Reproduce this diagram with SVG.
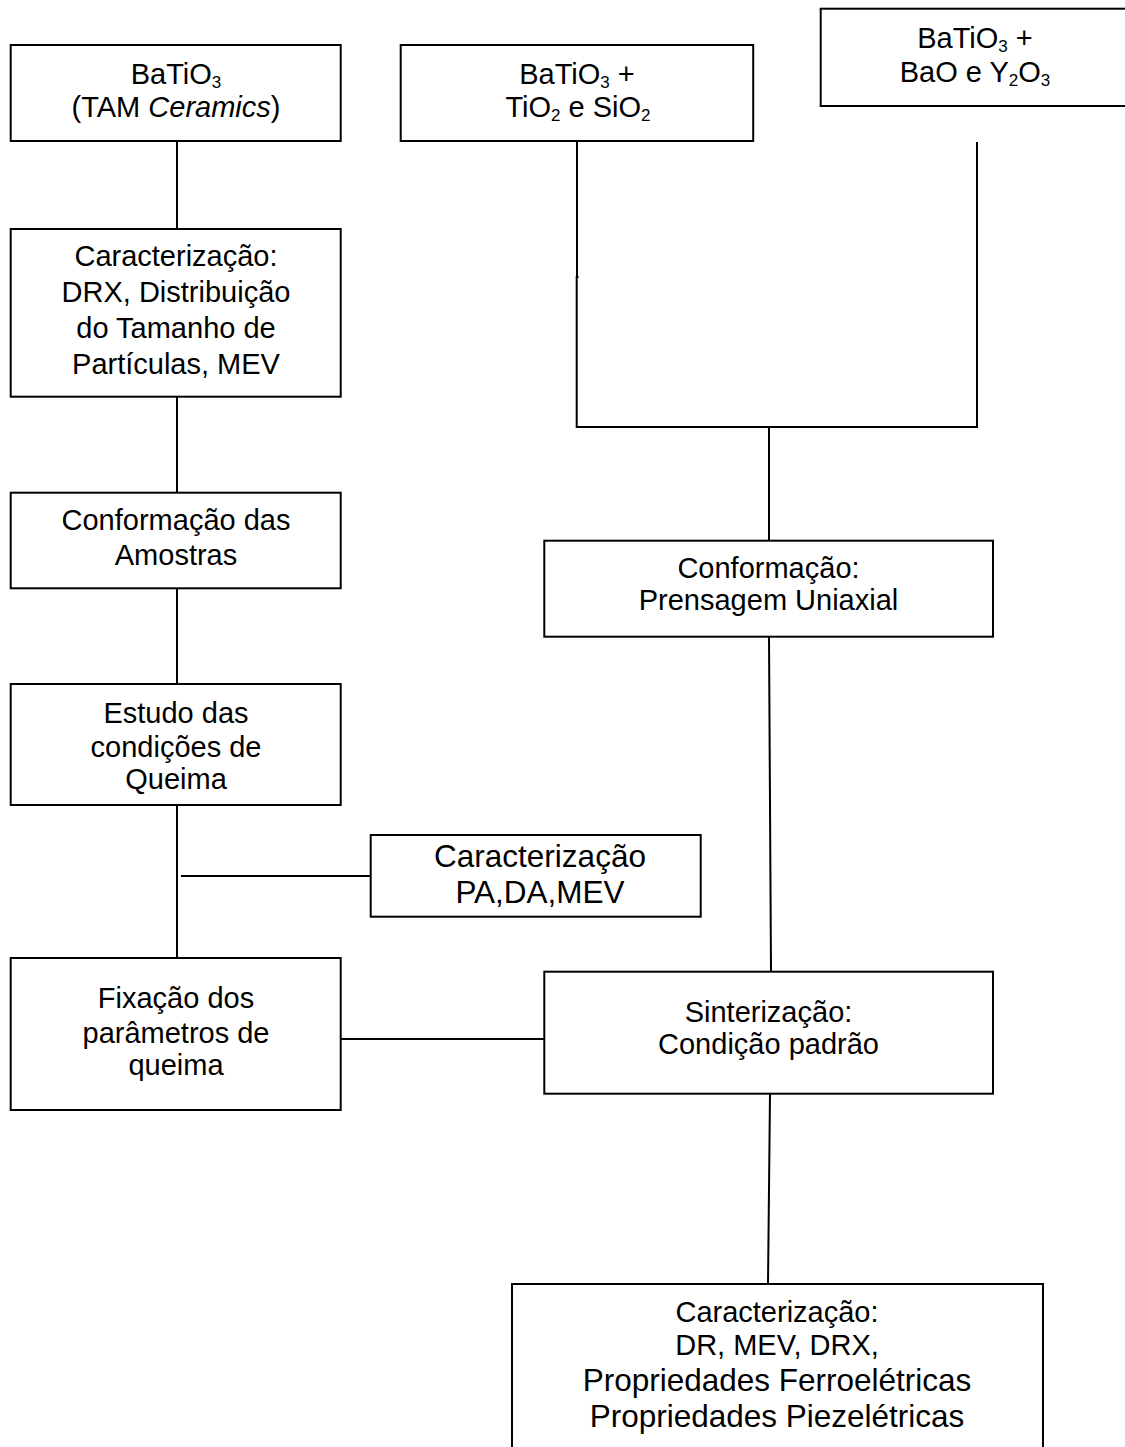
<svg xmlns="http://www.w3.org/2000/svg" width="1125" height="1447" viewBox="0 0 1125 1447">
<style>
.box{fill:#fff;stroke:#000;stroke-width:2}
.ln{fill:none;stroke:#000;stroke-width:2}
text{font-family:"Liberation Sans",Arial,sans-serif;font-size:29px;fill:#000;text-anchor:middle}
.sub{font-size:17px}
.big{font-size:31.5px}
</style>
<rect width="1125" height="1447" fill="#fff"/>
<g id="connectors">
<line class="ln" x1="177" y1="141" x2="177" y2="229"/>
<line class="ln" x1="177" y1="397" x2="177" y2="493"/>
<line class="ln" x1="177" y1="588" x2="177" y2="684"/>
<line class="ln" x1="177" y1="805" x2="177" y2="958"/>
<line class="ln" x1="181" y1="876" x2="371" y2="876"/>
<line class="ln" x1="341" y1="1039" x2="544" y2="1039"/>
<line class="ln" x1="577" y1="141" x2="577" y2="277"/>
<polyline class="ln" points="578.5,277 576.7,277 576.7,427 977,427 977,142"/>
<line class="ln" x1="769" y1="427" x2="769" y2="541"/>
<line class="ln" x1="769" y1="637" x2="771" y2="971"/>
<line class="ln" x1="770" y1="1094" x2="768" y2="1284"/>
</g>
<g id="n1">
<rect class="box" x="10.7" y="45" width="330" height="96"/>
<text x="176" y="84">BaTiO<tspan class="sub" dy="4">3</tspan></text>
<text x="176" y="117">(TAM <tspan font-style="italic">Ceramics</tspan>)</text>
</g>
<g id="n2">
<rect class="box" x="400.7" y="45" width="352.5" height="96"/>
<text x="577" y="83.5">BaTiO<tspan class="sub" dy="4">3</tspan><tspan dy="-4"> +</tspan></text>
<text x="578" y="116.5">TiO<tspan class="sub" dy="4">2</tspan><tspan dy="-4"> e SiO</tspan><tspan class="sub" dy="4">2</tspan></text>
</g>
<g id="n3">
<rect class="box" x="820.7" y="8.7" width="310" height="97.3"/>
<text x="975" y="47.5">BaTiO<tspan class="sub" dy="4">3</tspan><tspan dy="-4"> +</tspan></text>
<text x="975" y="82">BaO e Y<tspan class="sub" dy="4">2</tspan><tspan dy="-4">O</tspan><tspan class="sub" dy="4">3</tspan></text>
</g>
<g id="n4">
<rect class="box" x="10.7" y="229" width="330" height="167.7"/>
<text x="176" y="266">Caracterização:</text>
<text x="176" y="301.7">DRX, Distribuição</text>
<text x="176" y="338.3">do Tamanho de</text>
<text x="176" y="374">Partículas, MEV</text>
</g>
<g id="n5">
<rect class="box" x="10.7" y="492.7" width="330" height="95.6"/>
<text x="176" y="530">Conformação das</text>
<text x="176" y="565">Amostras</text>
</g>
<g id="n6">
<rect class="box" x="10.7" y="684" width="330" height="121"/>
<text x="176" y="723.3">Estudo das</text>
<text x="176" y="756.7">condições de</text>
<text x="176" y="789">Queima</text>
</g>
<g id="n7">
<rect class="box" x="370.7" y="835" width="330" height="81.7"/>
<text class="big" x="540" y="866.7">Caracterização</text>
<text class="big" x="540" y="903">PA,DA,MEV</text>
</g>
<g id="n8">
<rect class="box" x="10.7" y="958" width="330" height="152"/>
<text x="176" y="1008.3">Fixação dos</text>
<text x="176" y="1043.3">parâmetros de</text>
<text x="176" y="1075">queima</text>
</g>
<g id="n9">
<rect class="box" x="544.3" y="540.7" width="448.7" height="96"/>
<text x="768.5" y="578.3">Conformação:</text>
<text x="768.5" y="610">Prensagem Uniaxial</text>
</g>
<g id="n10">
<rect class="box" x="544.3" y="971.7" width="448.7" height="122"/>
<text x="768.5" y="1021.7">Sinterização:</text>
<text x="768.5" y="1054">Condição padrão</text>
</g>
<g id="n11">
<rect class="box" x="512" y="1284" width="531" height="180"/>
<text x="777" y="1321.7">Caracterização:</text>
<text x="777" y="1355">DR, MEV, DRX,</text>
<text class="big" x="777" y="1391">Propriedades Ferroelétricas</text>
<text class="big" x="777" y="1426.7">Propriedades Piezelétricas</text>
</g>
</svg>
